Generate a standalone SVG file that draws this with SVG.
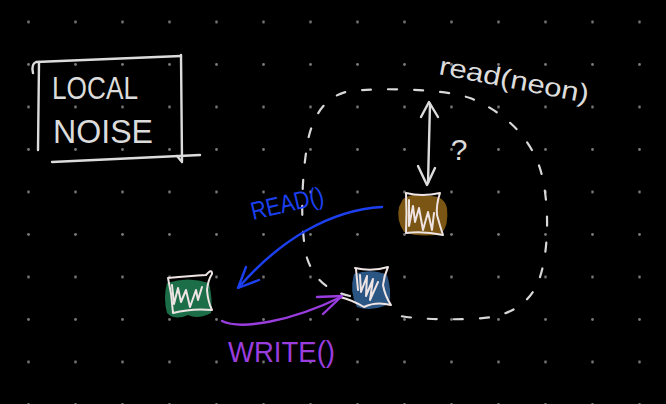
<svg xmlns="http://www.w3.org/2000/svg" width="666" height="404" viewBox="0 0 666 404">
  <defs>
    <pattern id="grid" x="5" y="0.75" width="47" height="42.5" patternUnits="userSpaceOnUse">
      <circle cx="23.5" cy="21.25" r="1.4" fill="#7a7a7a"/>
    </pattern>
  </defs>
  <style>
    .ink { fill: none; stroke: #dcdcdc; stroke-width: 2.4; stroke-linecap: round; stroke-linejoin: round; }
    .scrib { fill: none; stroke: #efe4e4; stroke-width: 2; stroke-linecap: round; stroke-linejoin: round; }
    .dash { fill: none; stroke: #d8d8d8; stroke-width: 2.2; stroke-linecap: round; stroke-dasharray: 9 17; }
    .txt { font-family: "Liberation Sans", "DejaVu Sans", sans-serif; fill: #dcdcdc; }
    .blue { stroke: #1c40f0; }
    .purple { stroke: #9a3ddf; }
  </style>
  <rect width="666" height="404" fill="#000"/>
  <rect width="666" height="404" fill="url(#grid)"/>

  <g id="local-noise">
    <path class="ink" d="M 33 73 Q 31 64 36 62 L 181 56"/>
    <path class="ink" d="M 39 62 L 38 150"/>
    <path class="ink" d="M 181 55 L 182 161"/>
    <path class="ink" d="M 52 162 L 200 155"/>
    <path class="ink" d="M 177 156 L 182 162"/>
    <text class="txt" x="52" y="99" font-size="31" textLength="86" lengthAdjust="spacingAndGlyphs">LOCAL</text>
    <text class="txt" x="53" y="143" font-size="34" textLength="100" lengthAdjust="spacingAndGlyphs">NOISE</text>
  </g>

  <g id="read-neon-label">
    <text class="txt" x="438" y="74" font-size="26" transform="rotate(11 438 74)" textLength="152" lengthAdjust="spacingAndGlyphs">read(neon)</text>
  </g>

  <g id="replica-set">
    <path class="dash" d="M 350 296 C 330 292, 314 280, 307 258 C 300 230, 301 180, 308 140 C 314 112, 328 95, 350 91 C 380 88, 440 88, 470 98 C 505 112, 535 140, 543 180 C 550 215, 548 260, 537 285 C 525 308, 505 318, 470 319 C 430 320, 405 318, 392 314"/>
    <text class="txt" x="459" y="160" font-size="30" text-anchor="middle">?</text>
  </g>

  <g id="node-brown">
    <path d="M 403 199 Q 414 192 428 196 Q 444 195 447 208 Q 449 226 441 234 Q 420 238 404 232 Q 396 220 399 207 Z" fill="#7b5513"/>
    <path class="scrib" d="M 406 193 Q 422 197 440 193 Q 436 205 437 215 Q 440 226 443 235 Q 424 231 406 233 Q 407 214 406 193"/>
    <path class="scrib" d="M 409 200 L 409 226 L 413 206 L 415 222 L 419 208 L 423 230 L 428 212 L 432 230 L 434 213"/>
  </g>

  <g id="node-blue">
    <path d="M 354 274 Q 372 268 387 275 Q 392 290 389 304 Q 372 312 357 307 Q 349 292 354 274 Z" fill="#2b5684"/>
    <path class="scrib" d="M 355 268 Q 372 272 388 267 Q 384 276 383 285 Q 385 296 391 305 Q 376 301 364 307 Q 352 300 340 297"/>
    <path class="scrib" d="M 356 269 L 358 290"/>
    <path class="scrib" d="M 360 275 L 361 292 L 367 276 L 366 296 L 373 279 L 370 300 L 378 282"/>
  </g>

  <g id="node-green">
    <path d="M 167 283 Q 188 276 209 283 Q 213 300 211 313 Q 198 320 188 315 Q 175 321 167 313 Q 163 298 167 283 Z" fill="#1c6e48"/>
    <path class="scrib" d="M 168 278 Q 190 276 206 275 Q 212 268 212 274 Q 208 280 207 290 Q 208 302 212 310 Q 192 308 173 313 Q 172 295 168 278"/>
    <path class="scrib" d="M 172 285 L 174 304 L 178 288 L 181 302 L 186 290 L 190 307 L 196 290 L 198 300 L 202 287"/>
  </g>

  <g id="connectors">
    <path class="ink" d="M 430 104 L 428 183"/>
    <path class="ink" d="M 421 117 L 429 102 L 438 117"/>
    <path class="ink" d="M 418 166 L 427 185 L 435 168"/>
    <path class="ink blue" d="M 382 207 C 330 210, 280 240, 239 287"/>
    <path class="ink blue" d="M 246 267 L 238 288 L 259 280"/>
    <path class="ink purple" d="M 222 321 C 240 330, 290 322, 341 297"/>
    <path class="ink purple" d="M 317 297 L 342 296 L 323 314"/>
  </g>

  <g id="labels">
    <text class="txt" x="253" y="220" font-size="25" style="fill:#1c40f0" transform="rotate(-13 253 220)" textLength="74" lengthAdjust="spacingAndGlyphs">READ()</text>
    <text class="txt" x="228" y="362" font-size="29" style="fill:#9a3ddf" textLength="107" lengthAdjust="spacingAndGlyphs">WRITE()</text>
  </g>
</svg>
